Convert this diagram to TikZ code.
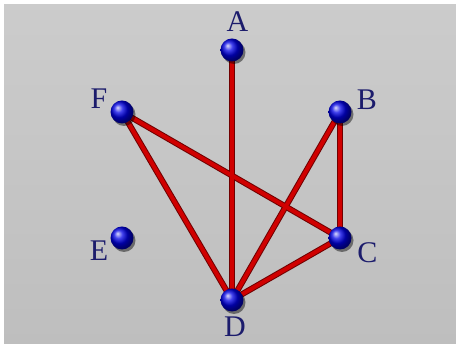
\documentclass[tikz,border=0pt]{standalone}
\usepackage{fontspec}
\setmainfont{Liberation Serif}
\usetikzlibrary{shadows}
\pgfdeclarelayer{bgpaper}
\pgfdeclarelayer{edges}
\pgfsetlayers{bgpaper,edges,main}
\definecolor{paper}{HTML}{C6C6C6}
\definecolor{edgered}{HTML}{D00000}
\definecolor{edgedark}{HTML}{700000}
\definecolor{lblnavy}{HTML}{1C1C6C}
\tikzset{
  vert/.style={circle, minimum size=23pt, inner sep=0pt, shading=ball, ball color=blue!90!black,
    drop shadow={shadow xshift=2pt, shadow yshift=-2.5pt, opacity=0.45, fill=black}},
  lbl/.style={text=lblnavy, font=\fontsize{30}{30}\selectfont, inner sep=0pt},
  edgeout/.style={draw=edgedark, line width=6pt},
  edgein/.style={draw=edgered, line width=4pt},
}
\begin{document}
\begin{tikzpicture}[x=1pt,y=1pt]
\begin{pgfonlayer}{bgpaper}
\fill[white] (0,0) rectangle (456,344);
\shade[top color=paper!90!white, bottom color=paper!96!black] (4,0) rectangle (456,339);
\end{pgfonlayer}
\useasboundingbox (0,0) rectangle (456,344);
\node[vert] (A) at (232,294) {};
\node[vert] (B) at (340,232) {};
\node[vert] (C) at (340,106) {};
\node[vert] (D) at (232,44) {};
\node[vert] (E) at (122,106) {};
\node[vert] (F) at (122,232) {};
\node[lbl] (lA) at (237.5,322) {A};
\node[lbl] (lB) at (367,244) {B};
\node[lbl] (lC) at (367.5,91) {C};
\node[lbl] (lD) at (235,17) {D};
\node[lbl] (lE) at (99,93) {E};
\node[lbl] (lF) at (99,245) {F};
\begin{pgfonlayer}{edges}
\foreach \u/\v in {A/D,F/D,F/C,B/C,B/D,C/D}{
  \draw[edgeout] (\u.center) -- (\v.center);
}
\foreach \u/\v in {A/D,F/D,F/C,B/C,B/D,C/D}{
  \draw[edgein] (\u.center) -- (\v.center);
}
\end{pgfonlayer}
\end{tikzpicture}
\end{document}
